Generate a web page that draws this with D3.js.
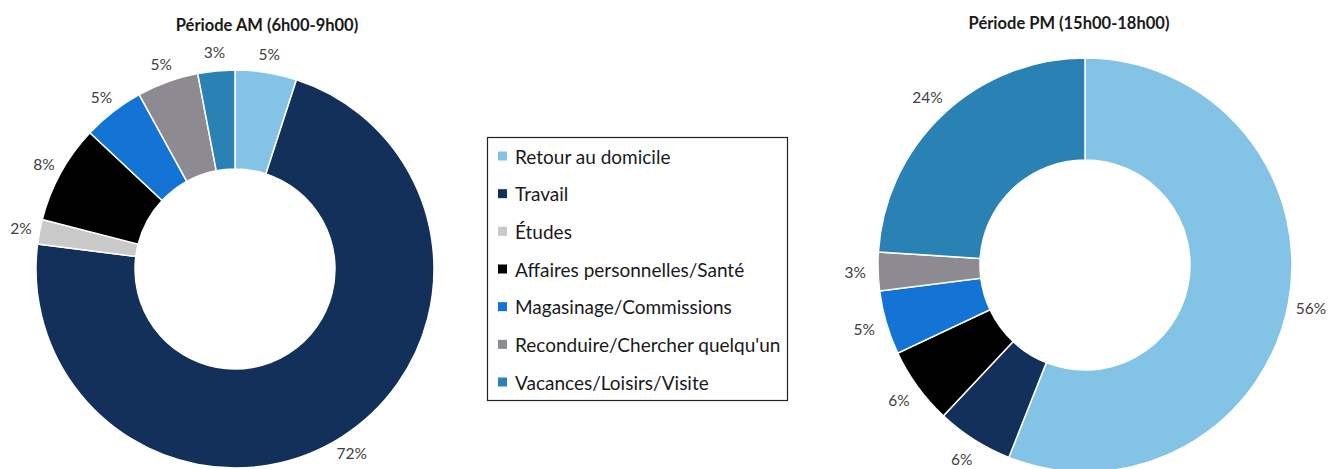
<!DOCTYPE html>
<html>
<head>
<meta charset="utf-8">
<script src="https://cdn.jsdelivr.net/npm/d3@7"></script>
<style>
  html, body { margin: 0; padding: 0; background: #fff; }
  svg { display: block; }
</style>
</head>
<body>
<svg id="chart" width="1340" height="469"></svg>
<script>
// Motifs de déplacement, parts en pourcentage
const categories = [
  "Retour au domicile",
  "Travail",
  "Études",
  "Affaires personnelles/Santé",
  "Magasinage/Commissions",
  "Reconduire/Chercher quelqu'un",
  "Vacances/Loisirs/Visite"
];
const valuesAM = [5, 72, 2, 8, 5, 5, 3];
const valuesPM = [56, 6, 0, 6, 5, 3, 24];
const titleAM = "Période AM (6h00-9h00)";
const titlePM = "Période PM (15h00-18h00)";
const colors = ["#82c3e6", "#12305a", "#c9c9c9", "#000000", "#1474d6", "#8d8a91", "#2a82b4"];

const svg = d3.select("#chart");
const color = d3.scaleOrdinal().domain(categories).range(colors);
const font = "Lato, 'Open Sans', sans-serif";

function donut(values, title, cfg) {
  const data = categories.map((c, i) => ({ cat: c, value: values[i] }));
  const pie = d3.pie().value(d => d.value).sort(null);
  const arcs = pie(data);
  const arc = d3.arc().innerRadius(cfg.r0).outerRadius(cfg.r1);
  const labelArc = d3.arc().innerRadius(cfg.rl).outerRadius(cfg.rl);

  const g = svg.append("g").attr("transform", `translate(${cfg.cx},${cfg.cy})`);
  g.selectAll("path.slice")
    .data(arcs.filter(d => d.data.value > 0))
    .join("path")
    .attr("class", "slice")
    .attr("d", arc)
    .attr("fill", d => color(d.data.cat))
    .attr("stroke", "#fff")
    .attr("stroke-width", 1.5);

  g.selectAll("text.lbl")
    .data(arcs.filter(d => d.data.value > 0))
    .join("text")
    .attr("class", "lbl")
    .attr("transform", d => `translate(${labelArc.centroid(d)})`)
    .attr("text-anchor", "middle")
    .attr("dominant-baseline", "central")
    .attr("font-family", font)
    .attr("font-size", 15.5)
    .attr("fill", "#404040")
    .text(d => d.data.value + "%");

  svg.append("text")
    .attr("x", cfg.tx)
    .attr("y", cfg.ty)
    .attr("text-anchor", "middle")
    .attr("dominant-baseline", "central")
    .attr("font-family", font)
    .attr("font-weight", "bold")
    .attr("font-size", 16.5)
    .attr("fill", "#1a1a1a")
    .text(title);
}

donut(valuesAM, titleAM, { cx: 235, cy: 269, r0: 100, r1: 199, rl: 218, tx: 267, ty: 25 });
donut(valuesPM, titlePM, { cx: 1085, cy: 265, r0: 105, r1: 207, rl: 230, tx: 1069, ty: 23 });

// Légende encadrée au centre
const legend = svg.append("g").attr("transform", "translate(487,137)");
legend.append("rect")
  .attr("x", 0.5).attr("y", 0.5)
  .attr("width", 300).attr("height", 263)
  .attr("fill", "#fff")
  .attr("stroke", "#222")
  .attr("stroke-width", 1.2);

const rowY = d3.scalePoint().domain(categories).range([19, 245]);
const items = legend.selectAll("g.item")
  .data(categories)
  .join("g")
  .attr("class", "item")
  .attr("transform", d => `translate(0,${rowY(d)})`);
items.append("rect")
  .attr("x", 11).attr("y", -4.5)
  .attr("width", 9).attr("height", 9)
  .attr("fill", d => color(d));
items.append("text")
  .attr("x", 28)
  .attr("y", 0)
  .attr("dominant-baseline", "central")
  .attr("font-family", font)
  .attr("font-size", 19)
  .attr("fill", "#1a1a1a")
  .text(d => d);
</script>
</body>
</html>
